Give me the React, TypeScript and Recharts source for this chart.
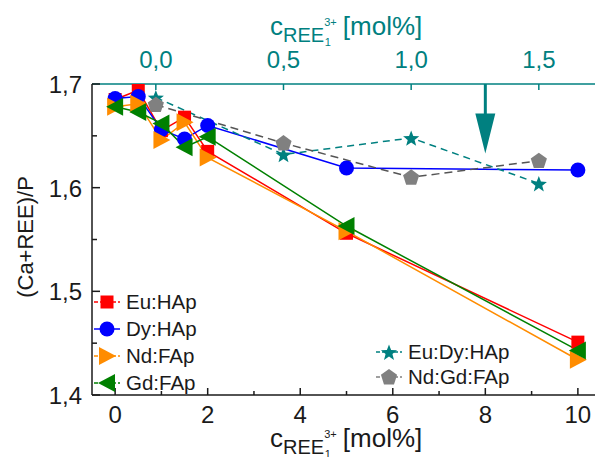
import React from 'react';
import { LineChart, Line, XAxis, YAxis, ReferenceLine } from 'recharts';

// bottom axis: REE3+ content [mol%]
const xMain = [0, 0.5, 1, 1.5, 2, 5, 10];
const euHAp = [1.685, 1.694, 1.655, 1.668, 1.635, 1.556, 1.451];
const dyHAp = [1.686, 1.688, 1.656, 1.647, 1.66, 1.619, 1.617];
const ndFAp = [1.678, 1.681, 1.646, 1.663, 1.629, 1.558, 1.434];
const gdFAp = [1.678, 1.673, 1.662, 1.639, 1.649, 1.563, 1.443];

// top axis: REE1 3+ content [mol%]
const xTop = [0, 0.5, 1, 1.5];
const euDyHAp = [1.687, 1.632, 1.648, 1.604];
const ndGdFAp = [1.68, 1.643, 1.61, 1.626];

const bottomTicks = [0, 1, 2, 3, 4, 5, 6, 7, 8, 9, 10];
const topTicks = [0, 0.5, 1, 1.5];
const yTicks = [1.4, 1.45, 1.5, 1.55, 1.6, 1.65, 1.7];
const arrowAt = { x: 8, from: 1.7, to: 1.633 };

const RED = '#ff0000';
const BLUE = '#0000ff';
const ORANGE = '#ff8c00';
const GREEN = '#008000';
const TEAL = '#008080';
const GRAY = '#808080';
const INK = '#1a1a1a';
const FONT = '"Liberation Sans", Arial, sans-serif';

const toRows = (xs: number[], ys: number[]) => xs.map((x, i) => ({ x, y: ys[i] }));
const comma = (v: number) => v.toFixed(1).replace('.', ',');

type Kind = 'square' | 'circle' | 'right' | 'left' | 'star' | 'pentagon';

const polyPoints = (cx: number, cy: number, n: number, r: number, inner?: number) => {
  const pts: string[] = [];
  const steps = inner ? n * 2 : n;
  for (let i = 0; i < steps; i++) {
    const a = (-90 + (360 / steps) * i) * (Math.PI / 180);
    const rr = inner && i % 2 ? inner : r;
    pts.push(`${cx + rr * Math.cos(a)},${cy + rr * Math.sin(a)}`);
  }
  return pts.join(' ');
};

const marker = (kind: Kind, cx: number, cy: number, color: string, key?: any) => {
  switch (kind) {
    case 'square':
      return <rect key={key} x={cx - 6.5} y={cy - 6.5} width={13} height={13} fill={color} />;
    case 'circle':
      return <circle key={key} cx={cx} cy={cy} r={7.5} fill={color} />;
    case 'right':
      return <polygon key={key} points={`${cx + 9},${cy} ${cx - 8},${cy - 9} ${cx - 8},${cy + 9}`} fill={color} />;
    case 'left':
      return <polygon key={key} points={`${cx - 9},${cy} ${cx + 8},${cy - 9} ${cx + 8},${cy + 9}`} fill={color} />;
    case 'star':
      return <polygon key={key} points={polyPoints(cx, cy + 1, 5, 8.5, 3.6)} fill={color} />;
    default:
      return <polygon key={key} points={polyPoints(cx, cy + 0.5, 5, 8.5)} fill={color} />;
  }
};

const dotOf = (kind: Kind, color: string) => (p: any) => marker(kind, p.cx, p.cy, color, `${kind}-${p.index}`);

const BottomTick = (props: any) => {
  const { x, y, payload } = props;
  const major = payload.value % 2 === 0;
  return (
    <g>
      <line x1={x} y1={y} x2={x} y2={y - (major ? 7 : 4)} stroke={INK} strokeWidth={1.5} />
      {major && (
        <text x={x} y={y + 28} textAnchor="middle" fontSize={24} fontFamily={FONT} fill={INK}>
          {payload.value}
        </text>
      )}
    </g>
  );
};

const TopTick = (props: any) => {
  const { x, y, payload } = props;
  return (
    <g>
      <line x1={x} y1={y} x2={x} y2={y + 6} stroke={TEAL} strokeWidth={1.5} />
      <text x={x} y={y - 16} textAnchor="middle" fontSize={24} fontFamily={FONT} fill={TEAL}>
        {comma(payload.value)}
      </text>
    </g>
  );
};

const LeftTick = (props: any) => {
  const { x, y, payload } = props;
  const major = Math.round(payload.value * 100) % 10 === 0;
  return (
    <g>
      <line x1={x} y1={y} x2={x + (major ? 8 : 5)} y2={y} stroke={INK} strokeWidth={1.5} />
      {major && (
        <text x={x - 10} y={y + 9} textAnchor="end" fontSize={24} fontFamily={FONT} fill={INK}>
          {comma(payload.value)}
        </text>
      )}
    </g>
  );
};

// c_{REE_1^{3+}} [mol%] written with tspans
const ConcTitle = ({ x, y, color }: { x: number; y: number; color: string }) => (
  <text x={x} y={y} fontFamily={FONT} fill={color} fontSize={26}>
    c
    <tspan fontSize={20} dy={7}>REE</tspan>
    <tspan fontSize={11} dy={-16}>3+</tspan>
    <tspan fontSize={11} dx={-12} dy={20}>1</tspan>
    <tspan fontSize={26} dx={12} dy={-11}>[mol%]</tspan>
  </text>
);

const Arrow = (props: any) => {
  const { x1, y1, y2 } = props;
  const top = Math.min(y1, y2);
  const tip = Math.max(y1, y2);
  const base = tip - 40;
  return (
    <g>
      <line x1={x1} y1={top} x2={x1} y2={base + 2} stroke={TEAL} strokeWidth={3} />
      <polygon points={`${x1 - 10},${base} ${x1 + 10},${base} ${x1},${tip}`} fill={TEAL} />
    </g>
  );
};

const leftLegend: { name: string; kind: Kind; color: string; dash?: string }[] = [
  { name: 'Eu:HAp', kind: 'square', color: RED, dash: '4 2' },
  { name: 'Dy:HAp', kind: 'circle', color: BLUE },
  { name: 'Nd:FAp', kind: 'right', color: ORANGE, dash: '4 2' },
  { name: 'Gd:FAp', kind: 'left', color: GREEN, dash: '4 2' },
];
const rightLegend: { name: string; kind: Kind; color: string; dash?: string }[] = [
  { name: 'Eu:Dy:HAp', kind: 'star', color: TEAL, dash: '4 2' },
  { name: 'Nd:Gd:FAp', kind: 'pentagon', color: GRAY, dash: '4 2' },
];

const LegendBlock = ({ items, x, y, gap }: { items: typeof leftLegend; x: number; y: number; gap: number }) => (
  <g>
    {items.map((it, i) => {
      const cy = y + i * gap;
      return (
        <g key={it.name}>
          <line x1={x} y1={cy} x2={x + 26} y2={cy} stroke={it.color} strokeWidth={1.5} strokeDasharray={it.dash} />
          {marker(it.kind, x + 13, cy, it.color)}
          <text x={x + 32} y={cy + 7} fontSize={20.5} fontFamily={FONT} fill={INK}>
            {it.name}
          </text>
        </g>
      );
    })}
  </g>
);

export default function App() {
  return (
    <div style={{ position: 'absolute', left: 0, top: 0, width: 595, height: 457, background: '#fff' }}>
      <LineChart width={595} height={457} margin={{ top: 0, right: 0, bottom: 0, left: 0 }}>
        <XAxis
          xAxisId="bottom"
          type="number"
          dataKey="x"
          orientation="bottom"
          domain={[-0.5, 10.37]}
          ticks={bottomTicks}
          interval={0}
          allowDataOverflow
          height={62}
          tickSize={0}
          tickMargin={0}
          tickLine={false}
          tick={<BottomTick />}
          axisLine={{ stroke: INK, strokeWidth: 1.5 }}
          label={{ content: (p: any) => <ConcTitle x={(p.viewBox?.x ?? 92) + 178} y={(p.viewBox?.y ?? 395) + 52} color={INK} /> }}
        />
        <XAxis
          xAxisId="top"
          type="number"
          dataKey="x"
          orientation="top"
          domain={[-0.25, 1.72]}
          ticks={topTicks}
          interval={0}
          allowDataOverflow
          height={84}
          tickSize={0}
          tickMargin={0}
          tickLine={false}
          tick={<TopTick />}
          axisLine={{ stroke: TEAL, strokeWidth: 1.5 }}
          label={{ content: (p: any) => <ConcTitle x={(p.viewBox?.x ?? 92) + 178} y={(p.viewBox?.y ?? 0) + 35} color={TEAL} /> }}
        />
        <YAxis
          type="number"
          domain={[1.4, 1.7]}
          ticks={yTicks}
          interval={0}
          allowDataOverflow
          width={92}
          tickSize={0}
          tickMargin={0}
          tickLine={false}
          tick={<LeftTick />}
          axisLine={{ stroke: INK, strokeWidth: 1.5 }}
          label={{
            content: (p: any) => {
              const vb = p.viewBox ?? { x: 0, y: 84, height: 311 };
              const cx = vb.x + 33;
              const cy = vb.y + 153;
              return (
                <text x={cx} y={cy} transform={`rotate(-90 ${cx} ${cy})`} textAnchor="middle" fontSize={22} fontFamily={FONT} fill={INK}>
                  (Ca+REE)/P
                </text>
              );
            },
          }}
        />
        <Line xAxisId="bottom" data={toRows(xMain, euHAp)} dataKey="y" stroke={RED} strokeWidth={1.5} dot={dotOf('square', RED)} isAnimationActive={false} />
        <Line xAxisId="bottom" data={toRows(xMain, dyHAp)} dataKey="y" stroke={BLUE} strokeWidth={1.5} dot={dotOf('circle', BLUE)} isAnimationActive={false} />
        <Line xAxisId="bottom" data={toRows(xMain, ndFAp)} dataKey="y" stroke={ORANGE} strokeWidth={1.5} dot={dotOf('right', ORANGE)} isAnimationActive={false} />
        <Line xAxisId="bottom" data={toRows(xMain, gdFAp)} dataKey="y" stroke={GREEN} strokeWidth={1.5} dot={dotOf('left', GREEN)} isAnimationActive={false} />
        <Line xAxisId="top" data={toRows(xTop, euDyHAp)} dataKey="y" stroke={TEAL} strokeWidth={1.5} strokeDasharray="7 5" dot={dotOf('star', TEAL)} isAnimationActive={false} />
        <Line xAxisId="top" data={toRows(xTop, ndGdFAp)} dataKey="y" stroke="#555" strokeWidth={1.5} strokeDasharray="8 5" dot={dotOf('pentagon', GRAY)} isAnimationActive={false} />
        <ReferenceLine
          xAxisId="bottom"
          segment={[{ x: arrowAt.x, y: arrowAt.from }, { x: arrowAt.x, y: arrowAt.to }]}
          shape={<Arrow />}
        />
      </LineChart>
      <svg width={595} height={457} style={{ position: 'absolute', left: 0, top: 0, pointerEvents: 'none' }}>
        <LegendBlock items={leftLegend} x={94} y={302} gap={27} />
        <LegendBlock items={rightLegend} x={376} y={352} gap={25} />
      </svg>
    </div>
  );
}
